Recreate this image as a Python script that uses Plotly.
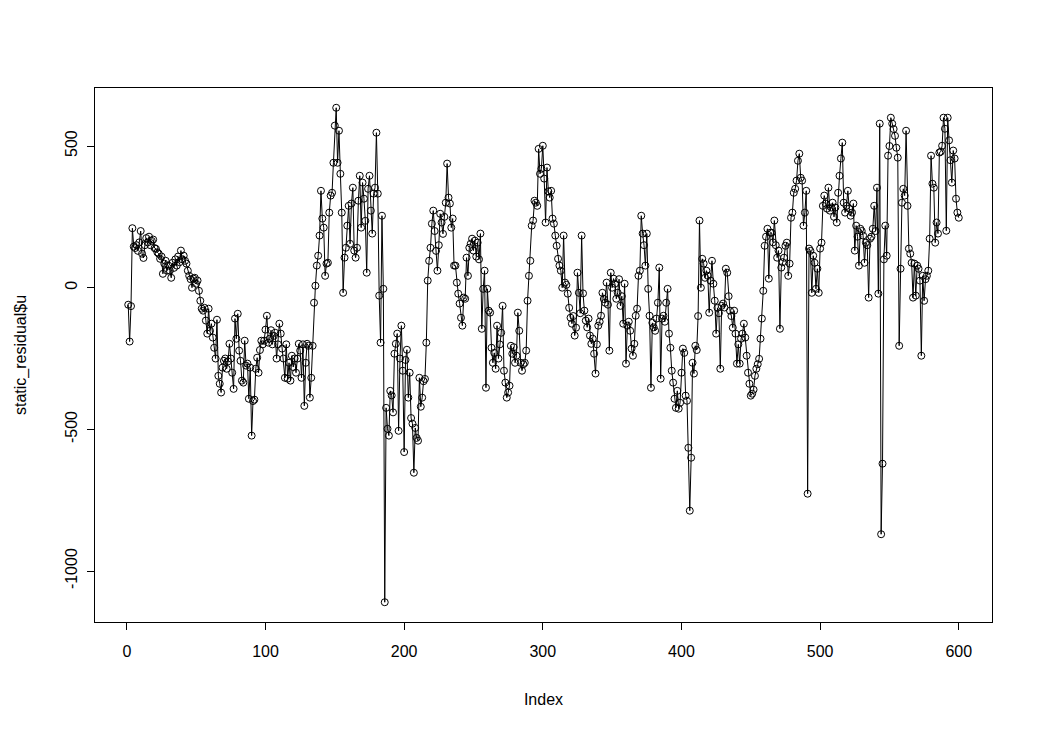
import plotly.graph_objects as go

# static_residual$u values, index 1..600 in blocks of 100
u_001_100 = [
    -60, -190, -65, 210, 145, 140, 150, 130, 160, 200,
    120, 105, 150, 175, 160, 180, 150, 165, 170, 140,
    137, 125, 120, 102, 110, 49, 85, 95, 60, 78,
    60, 35, 88, 70, 100, 78, 110, 90, 131, 100,
    113, 95, 85, 60, 42, 30, 0, 32, 35, 14,
    25, -11, -46, -74, -81, -71, -116, -162, -74, -152,
    -127, -176, -212, -250, -113, -311, -339, -370, -282, -258,
    -250, -286, -260, -198, -250, -300, -357, -109, -180, -92,
    -222, -258, -328, -335, -187, -275, -268, -392, -282, -522,
    -400, -395, -286, -247, -300, -220, -187, -200, -187, -148,
]
u_101_200 = [
    -99, -194, -180, -150, -200, -170, -159, -250, -200, -127,
    -162, -215, -250, -318, -200, -321, -265, -328, -240, -280,
    -250, -300, -250, -198, -222, -318, -200, -417, -265, -198,
    -205, -388, -318, -205, -53, 7, 78, 113, 184, 342,
    244, 212, 42, 85, 88, 265, 325, 335, 441, 572,
    635, 441, 554, 402, 265, -18, 106, 141, 219, 289,
    155, 297, 353, 131, 106, 141, 307, 395, 212, 371,
    314, 236, 53, 349, 395, 272, 191, 332, 353, 547,
    332, -28, -194, 254, -4, -1110, -424, -498, -522, -364,
    -380, -440, -233, -198, -162, -505, -250, -134, -293, -580,
]
u_201_300 = [
    -255, -219, -388, -300, -460, -480, -653, -495, -530, -540,
    -318, -420, -388, -330, -322, -194, 25, 95, 141, 226,
    272, 200, 130, 60, 150, 261, 230, 190, 250, 300,
    438, 318, 297, 212, 244, 78, 78, 18, -21, -56,
    -106, -134, -35, -39, 106, 42, 141, 155, 173, 131,
    166, 110, 159, 100, 191, -145, -4, 60, -353, -4,
    -81, -88, -212, -265, -230, -286, -134, -250, -200, -159,
    -64, -293, -335, -388, -370, -346, -205, -233, -210, -265,
    -240, -88, -152, -265, -293, -270, -265, -222, -46, 42,
    95, 219, 237, 307, 300, 289, 490, 402, 420, 501,
]
u_301_400 = [
    385, 230, 424, 340, 318, 342, 244, 226, 184, 148,
    102, 78, 60, 0, 184, 18, 10, -21, -71, -106,
    -127, -100, -169, -141, 53, -18, -90, 184, -20, -81,
    -116, -140, -109, -169, -198, -180, -233, -303, -200, -134,
    -120, -99, -18, -40, -53, 18, -60, -222, 53, 0,
    32, 14, -39, -18, 30, -64, -30, -127, 14, -268,
    -134, -120, -152, -215, -240, -198, -99, -74, 42, 60,
    254, 191, 150, 78, 191, -4, -99, -353, -124, -140,
    -152, -109, -53, 71, -321, -109, -99, -120, -53, -4,
    -162, -212, -293, -335, -392, -424, -364, -427, -406, -300,
]
u_401_500 = [
    -215, -230, -381, -399, -565, -787, -600, -265, -303, -205,
    -220, -100, 237, 0, 102, 85, 35, 60, 42, -88,
    25, 95, 14, -46, -162, -71, -90, -286, -64, -56,
    -70, 67, 53, -30, -81, -100, -141, -81, -162, -268,
    -200, -268, -180, -162, -127, -176, -240, -300, -339, -381,
    -374, -360, -311, -286, -270, -251, -180, -109, -11, 148,
    180, 208, 32, 194, 194, 160, 237, 150, 106, 131,
    -145, 71, 90, 106, 148, 159, 42, 85, 247, 265,
    335, 349, 378, 448, 473, 388, 378, 219, 265, 342,
    -727, 138, 130, -18, 113, 88, -4, 67, -18, 138,
]
u_501_600 = [
    159, 289, 325, 297, 279, 353, 272, 283, 300, 250,
    283, 230, 335, 395, 456, 512, 300, 265, 289, 342,
    279, 254, 265, 297, 131, 219, 180, 78, 208, 200,
    184, 88, 159, 150, -35, 173, 180, 208, 289, 200,
    353, -21, 579, -870, -621, 100, 219, 113, 466, 500,
    600, 579, 560, 536, 494, 459, -205, 67, 300, 349,
    325, 554, 289, 138, 120, 88, -35, 85, -28, 78,
    67, 25, -240, 42, -46, 30, 42, 60, 173, 466,
    367, 353, 159, 230, 191, 477, 480, 501, 600, 561,
    201, 600, 520, 450, 371, 484, 456, 314, 265, 247,
]

u = u_001_100 + u_101_200 + u_201_300 + u_301_400 + u_401_500 + u_501_600
index = list(range(1, len(u) + 1))

x_ticks = [0, 100, 200, 300, 400, 500, 600]
y_ticks = [-1000, -500, 0, 500]

FONT = "Liberation Sans, Arial, sans-serif"

fig = go.Figure(
    go.Scatter(
        x=index,
        y=u,
        mode="lines+markers",
        line=dict(color="black", width=1),
        marker=dict(symbol="circle-open", size=7, color="black",
                    line=dict(width=1, color="black")),
        hoverinfo="x+y",
    )
)

n = len(u)
xpad = 0.04 * (n - 1)
ymin, ymax = min(u), max(u)
ypad = 0.04 * (ymax - ymin)

# page body has an 8px margin, so the figure is sized to fit inside the window
fig.update_layout(
    width=1021,
    height=717,
    margin=dict(l=82, r=37, t=80, b=103),
    paper_bgcolor="white",
    plot_bgcolor="white",
    showlegend=False,
    font=dict(family=FONT, size=16, color="black"),
    xaxis=dict(
        range=[1 - xpad, n + xpad],
        tickmode="array",
        tickvals=x_ticks,
        ticks="outside",
        ticklen=7,
        tickwidth=1,
        tickcolor="black",
        ticklabelstandoff=8,
        showgrid=False,
        zeroline=False,
        showline=True,
        mirror=True,
        linecolor="black",
        linewidth=1,
        tickfont=dict(family=FONT, size=16),
        title=dict(text="Index", font=dict(family=FONT, size=16), standoff=34),
    ),
    yaxis=dict(
        range=[ymin - ypad, ymax + ypad],
        tickmode="array",
        tickvals=y_ticks,
        ticktext=[str(v) for v in y_ticks],
        tickangle=-90,
        ticks="outside",
        ticklen=7,
        tickwidth=1,
        tickcolor="black",
        ticklabelstandoff=4,
        showgrid=False,
        zeroline=False,
        showline=True,
        mirror=True,
        linecolor="black",
        linewidth=1,
        tickfont=dict(family=FONT, size=16),
        title=dict(text="static_residual$u", font=dict(family=FONT, size=16), standoff=31),
    ),
)

fig.write_html("out.html")
